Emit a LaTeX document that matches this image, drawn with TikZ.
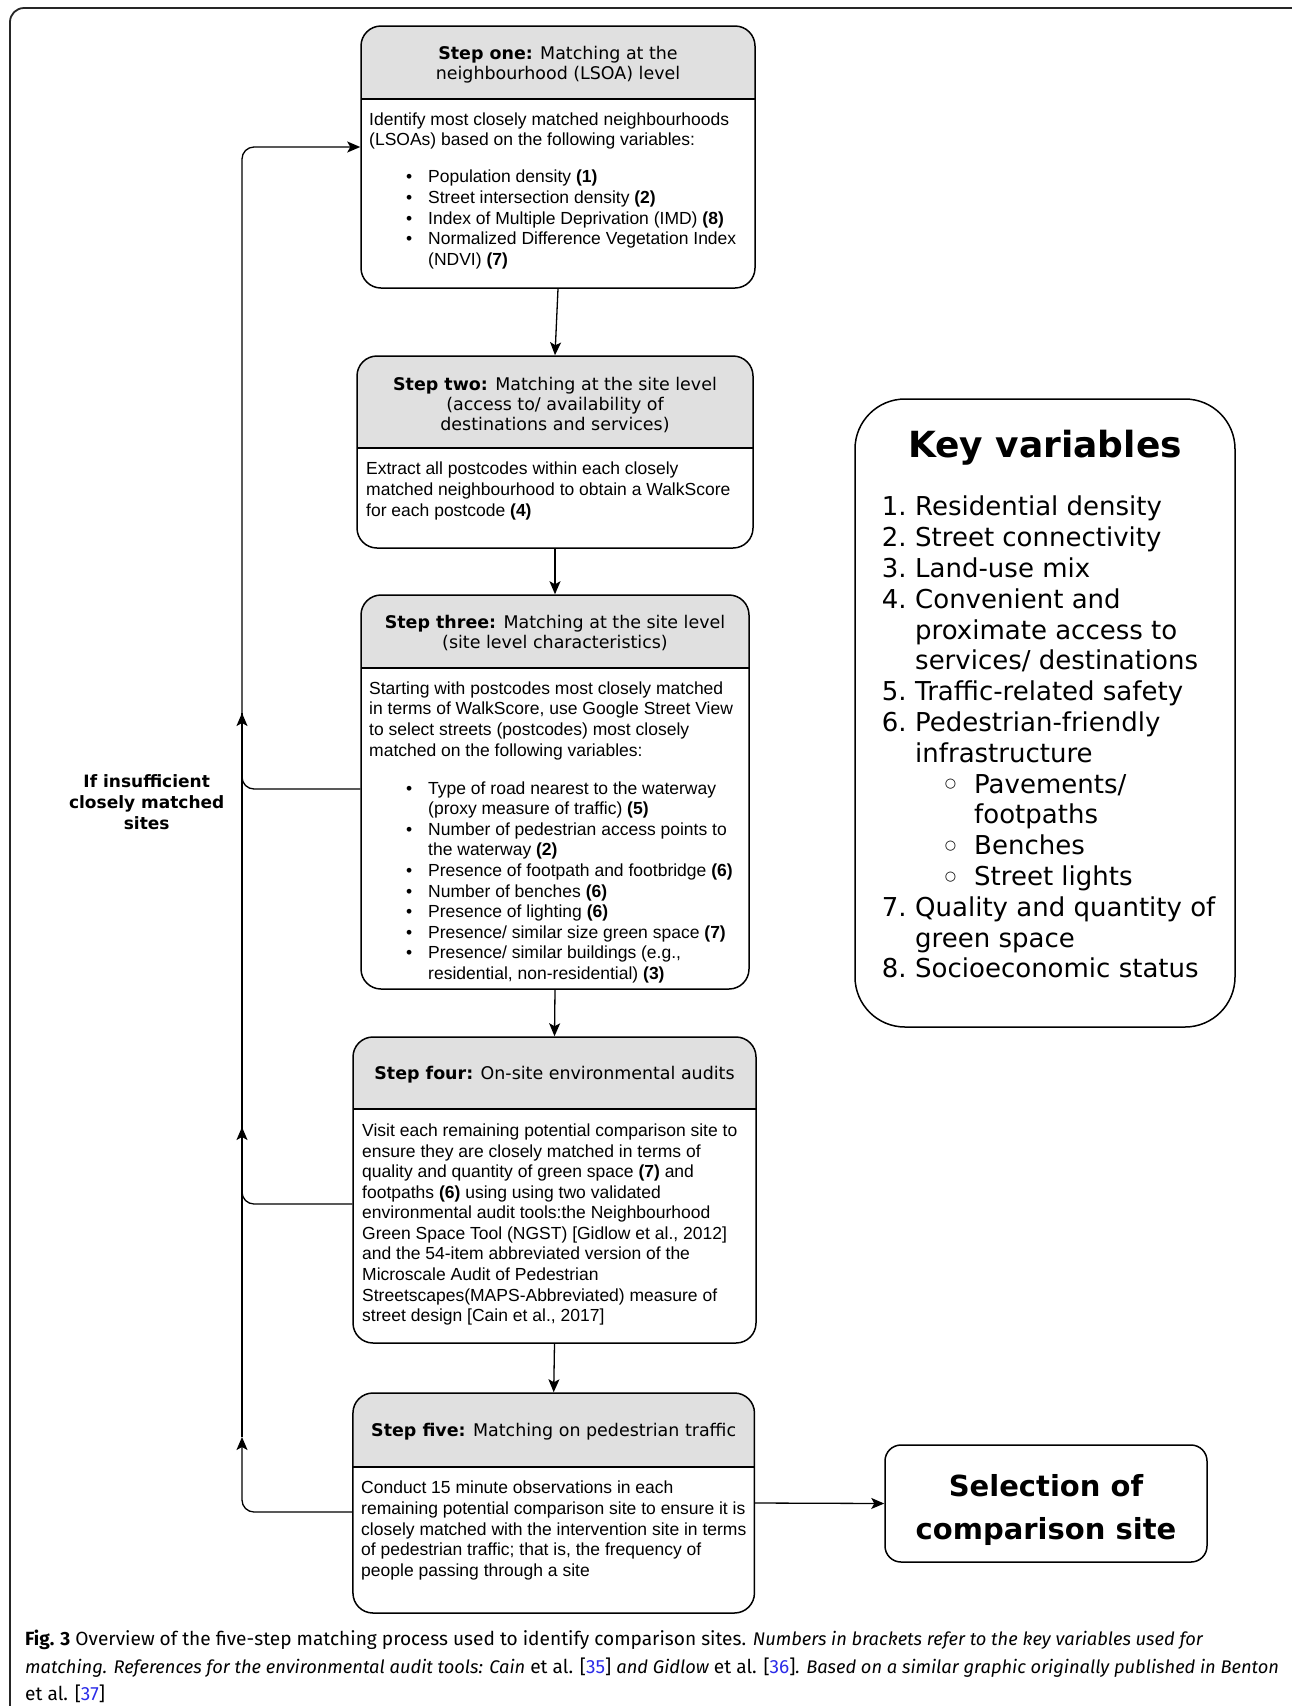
\documentclass[tikz,border=0pt]{standalone}
\usepackage{fontspec}
\setmainfont{Liberation Sans}
\newfontfamily\verdfont{DejaVu Sans}
\newfontfamily\capfont{Fira Sans}
\usepackage{xcolor}
\usetikzlibrary{arrows.meta, calc}
\definecolor{hdrgray}{HTML}{E0E0E0}
\definecolor{refblue}{HTML}{2B2BE8}
\newcommand{\bitem}{\hspace*{37pt}\makebox[22pt][l]{\textbullet}}
\newcommand{\bcont}{\hspace*{59pt}}
\newcommand{\knum}[1]{\makebox[33.4pt][l]{#1}}
\newcommand{\kcont}{\hspace*{33.4pt}}
\newcommand{\ksub}{\hspace*{63pt}\makebox[29.4pt][l]{\raisebox{5.5pt}{\fontsize{13}{13}\selectfont ○}}}
\newcommand{\kscont}{\hspace*{92.4pt}}
\newcommand{\capit}[1]{{\fontsize{18.3}{27.5}\selectfont\itshape #1}}

\begin{document}
\begin{tikzpicture}[x=1pt, y=-1pt, >={Stealth[length=13pt,width=11pt,inset=3pt]},
  stepbox/.style={draw, line width=1.5pt, rounded corners=20pt, inner sep=0pt, fill=white,
    path picture={
      \fill[hdrgray, sharp corners] ([yshift=2pt]path picture bounding box.north west) rectangle ([yshift=-#1]path picture bounding box.north east);
      \draw[line width=1.5pt, sharp corners] ([yshift=-#1]path picture bounding box.north west) -- ([yshift=-#1]path picture bounding box.north east);
    }},
  hdrtext/.style={font=\verdfont\fontsize{17.45}{20.4}\selectfont, align=center, inner sep=0pt},
  bodytext/.style={font=\fontsize{17.5}{20.6}\selectfont, align=left, anchor=north west, inner sep=0pt},
  flow/.style={->, line width=1.3pt},
  link/.style={line width=1.3pt}]
  \useasboundingbox (0,0) rectangle (1292,1706);
  \draw[line width=1.8pt, black!85, rounded corners=14pt] (10,1730) -- (10,8) -- (1305,8) -- (1305,1730);

  \node[stepbox=73pt, minimum width=394pt, minimum height=262pt] (one) at (558,157) {};
  \node[hdrtext] (one-h) at (558,64.5) {\textbf{Step one:} Matching at the\\neighbourhood (LSOA) level};
  \node[bodytext] (one-b) at (369,112.5) {Identify most closely matched neighbourhoods\\
    (LSOAs) based on the following variables:\\[16.4pt]
    \bitem Population density \textbf{(1)}\\
    \bitem Street intersection density \textbf{(2)}\\
    \bitem Index of Multiple Deprivation (IMD) \textbf{(8)}\\
    \bitem Normalized Difference Vegetation Index\\
    \bcont (NDVI) \textbf{(7)}};

  \node[stepbox=92pt, minimum width=396pt, minimum height=192pt] (two) at (555,452) {};
  \node[hdrtext] (two-h) at (555,405) {\textbf{Step two:} Matching at the site level\\(access to/ availability of\\destinations and services)};
  \node[bodytext] (two-b) at (366,462) {Extract all postcodes within each closely\\
    matched neighbourhood to obtain a WalkScore\\
    for each postcode \textbf{(4)}};

  \node[stepbox=73pt, minimum width=388pt, minimum height=394pt] (three) at (555,792) {};
  \node[hdrtext] (three-h) at (555,633) {\textbf{Step three:} Matching at the site level\\(site level characteristics)};
  \node[bodytext] (three-b) at (369,681.5) {Starting with postcodes most closely matched\\
    in terms of WalkScore, use Google Street View\\
    to select streets (postcodes) most closely\\
    matched on the following variables:\\[17.4pt]
    \bitem Type of road nearest to the waterway\\
    \bcont (proxy measure of traffic) \textbf{(5)}\\
    \bitem Number of pedestrian access points to\\
    \bcont the waterway \textbf{(2)}\\
    \bitem Presence of footpath and footbridge \textbf{(6)}\\
    \bitem Number of benches \textbf{(6)}\\
    \bitem Presence of lighting \textbf{(6)}\\
    \bitem Presence/ similar size green space \textbf{(7)}\\
    \bitem Presence/ similar buildings (e.g.,\\
    \bcont residential, non-residential) \textbf{(3)}};

  \node[stepbox=72pt, minimum width=403pt, minimum height=306pt] (four) at (554.5,1190) {};
  \node[hdrtext] (four-h) at (554.5,1075) {\textbf{Step four:} On-site environmental audits};
  \node[bodytext] (four-b) at (362,1123.5) {Visit each remaining potential comparison site to\\
    ensure they are closely matched in terms of\\
    quality and quantity of green space \textbf{(7)} and\\
    footpaths \textbf{(6)} using using two validated\\
    environmental audit tools:the Neighbourhood\\
    Green Space Tool (NGST) [Gidlow et al., 2012]\\
    and the 54-item abbreviated version of the\\
    Microscale Audit of Pedestrian\\
    Streetscapes(MAPS-Abbreviated) measure of\\
    street design [Cain et al., 2017]};

  \node[stepbox=74pt, minimum width=401.5pt, minimum height=220pt] (five) at (553.7,1503) {};
  \node[hdrtext] (five-h) at (553.7,1432) {\textbf{Step five:} Matching on pedestrian traffic};
  \node[bodytext] (five-b) at (361,1481) {Conduct 15 minute observations in each\\
    remaining potential comparison site to ensure it is\\
    closely matched with the intervention site in terms\\
    of pedestrian traffic; that is, the frequency of\\
    people passing through a site};

  \node[draw, line width=1.5pt, rounded corners=16pt, minimum width=322pt, minimum height=117pt] (sel) at (1046,1503.5) {};
  \node[font=\verdfont\bfseries\fontsize{29}{43}\selectfont, align=center, inner sep=0pt] (sel-t) at ([yshift=-6.5pt]sel.center) {Selection of\\comparison site};

  \node[draw, line width=1.5pt, rounded corners=50pt, minimum width=380pt, minimum height=628pt] (key) at (1045,713) {};
  \node[font=\verdfont\bfseries\fontsize{36}{43}\selectfont, anchor=base, inner sep=0pt] (key-t) at (1045,457) {Key variables};
  \node[font=\verdfont\fontsize{26}{30.8}\selectfont, align=left, anchor=north west, inner sep=0pt] (key-l) at (881.6,496) {%
    \knum{1.}Residential density\\
    \knum{2.}Street connectivity\\
    \knum{3.}Land-use mix\\
    \knum{4.}Convenient and\\
    \kcont proximate access to\\
    \kcont services/ destinations\\
    \knum{5.}Traffic-related safety\\
    \knum{6.}Pedestrian-friendly\\
    \kcont infrastructure\\
    \ksub Pavements/\\
    \kscont footpaths\\
    \ksub Benches\\
    \ksub Street lights\\
    \knum{7.}Quality and quantity of\\
    \kcont green space\\
    \knum{8.}Socioeconomic status};

  \node[font=\verdfont\bfseries\fontsize{17}{21}\selectfont, align=center, inner sep=0pt] (retry) at (146.7,802) {If insufficient\\closely matched\\sites};

  \coordinate (up3) at (242,713);
  \coordinate (up4) at (242,1127);
  \coordinate (up5) at (242,1437);
  \draw[flow] (one.south) -- (two.north);
  \draw[flow] (two.south) -- (three.north);
  \draw[flow] (three.south) -- (four.north);
  \draw[flow] (four.south) -- (five.north);
  \draw[flow] (five.east) -- (sel.west);
  \draw[flow, rounded corners=12pt] ([yshift=3pt]three.west) -| (up3);
  \draw[flow, rounded corners=12pt] (up3) |- ([yshift=10pt]one.west);
  \draw[link] (up4) -- (up3);
  \draw[flow, rounded corners=12pt] ([yshift=-14pt]four.west) -| (up4);
  \draw[link] (up5) -- (up4);
  \draw[flow, rounded corners=12pt] ([yshift=-9pt]five.west) -| (up5);

  \node[font=\capfont\fontsize{19.1}{27.5}\selectfont, align=left, anchor=north west, inner sep=0pt] (cap) at (25,1630) {%
    \textbf{Fig. 3} Overview of the five-step matching process used to identify comparison sites. \capit{Numbers in brackets refer to the key variables used for}\\
    \capit{matching. References for the environmental audit tools: Cain} et al. [\textcolor{refblue}{35}] \capit{and Gidlow} et al. [\textcolor{refblue}{36}]\capit{. Based on a similar graphic originally published in Benton}\\
    et al. [\textcolor{refblue}{37}]};
\end{tikzpicture}
\end{document}
